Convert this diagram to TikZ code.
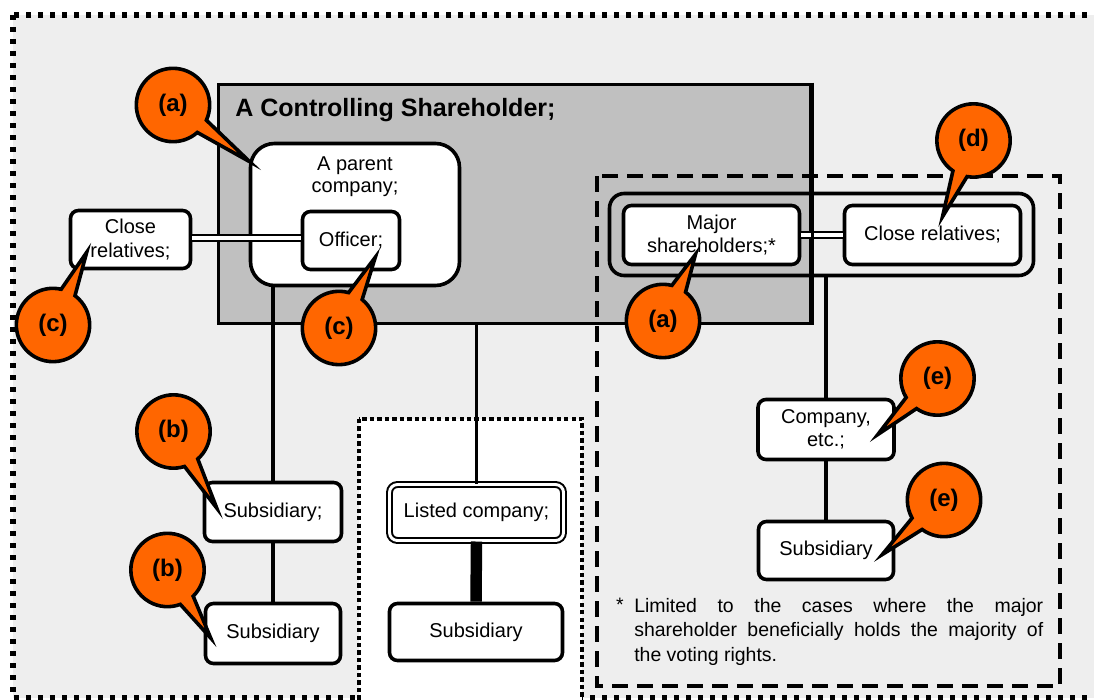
\documentclass[tikz,border=0pt]{standalone}
\usepackage{fontspec}
\setmainfont{Liberation Sans}
\usetikzlibrary{shapes.callouts,calc}
\definecolor{callorange}{HTML}{FF6600}
\definecolor{boxgray}{HTML}{C0C0C0}
\definecolor{bggray}{HTML}{EEEEEE}
\begin{document}
\begin{tikzpicture}[x=0.75pt,y=-0.75pt,
  box/.style={draw, line width=2.7pt, rounded corners=6pt, fill=white, align=center,
    font=\fontsize{15}{17.5}\selectfont, inner sep=0pt},
  link/.style={line width=2.6pt},
  dbl/.style={draw, double=white, line width=1.6pt, double distance=2.4pt},
  bubble/.style={ellipse callout, draw, line width=2.7pt, fill=callorange,
    minimum width=55pt, minimum height=55pt, inner sep=0pt, callout pointer arc=24,
    font=\fontsize{18}{20}\selectfont\bfseries},
  outerdot/.style={line width=4.4pt, dash pattern=on 4pt off 5pt},
  innerdot/.style={line width=3.6pt, dash pattern=on 3.2pt off 2.4pt},
  dashbox/.style={line width=2.8pt, dash pattern=on 12pt off 6.75pt},
  notetext/.style={font=\fontsize{14.6}{18.4}\selectfont, inner sep=0pt}
]
\useasboundingbox (0,0) rectangle (1094,699);
\clip (0,0) rectangle (1094,699);
\fill[white] (0,0) rectangle (1094,699);

% outer frame
\draw[outerdot, fill=bggray] (13,15) rectangle (1115,698);

% controlling shareholder box
\node[draw, line width=2.7pt, fill=boxgray, minimum width=444pt, minimum height=179.25pt, inner sep=0pt] (ctrl) at (514.5,204) {};
\node[anchor=west, font=\fontsize{18.8}{22}\selectfont\bfseries, inner sep=0pt] (title) at (235,110) {A Controlling Shareholder;};

% listed company dotted region
\draw[innerdot, fill=white] (359,419) rectangle (582,730);

% dashed region
\draw[dashbox] (597,176) rectangle (1060,686);

% left group
\node[box, rounded corners=18pt, minimum width=156.75pt, minimum height=106.5pt] (parent) at (355,214.5) {};
\node[align=center, font=\fontsize{15}{16.5}\selectfont, inner sep=0pt] (parentlbl) at (355,177) {A parent\\company;};
\node[box, minimum width=72.75pt, minimum height=43.5pt] (officer) at (351,240.5) {Officer;};
\node[box, minimum width=90pt, minimum height=43.5pt] (closeL) at (130.5,239.5) {Close\\relatives;};
\node[box, minimum width=102.75pt, minimum height=44.25pt] (sub1) at (273,512) {Subsidiary;};
\node[box, minimum width=101.25pt, minimum height=45pt] (sub2) at (273,633.5) {Subsidiary};

% center group
\node[box, double=white, line width=1.5pt, double distance=2.2pt, minimum width=130.5pt, minimum height=42pt] (listed) at (476.5,512.5) {Listed company;};
\node[box, minimum width=129.75pt, minimum height=42.75pt] (subC) at (476,632) {Subsidiary};

% right group
\node[draw, line width=2.7pt, rounded corners=11pt, minimum width=318pt, minimum height=61.5pt, inner sep=0pt] (encl) at (821.5,234.5) {};
\node[box, minimum width=132pt, minimum height=44.25pt] (major) at (711.5,235) {Major\\shareholders;*};
\node[box, minimum width=132pt, minimum height=44.25pt] (closeR) at (932.5,235) {Close relatives;};
\node[box, minimum width=102pt, minimum height=45pt] (company) at (826,429.5) {Company,\\etc.;};
\node[box, minimum width=101.25pt, minimum height=43.5pt] (subR) at (826,550.5) {Subsidiary};

% connectors
\draw[link] (sub1.north |- parent.south) -- (sub1.north);
\draw[link] (sub1.south) -- (sub2.north);
\draw[link] (listed.north |- ctrl.south) -- (listed.north);
\draw[line width=8.6pt] (listed.south) -- (subC.north);
\draw[link] (company.north |- encl.south) -- (company.north);
\draw[link] (company.south) -- (subR.north);
\draw[dbl] ($(closeL.east)+(0,-1.5)$) -- ($(closeL.east -| officer.west)+(0,-1.5)$);
\draw[dbl] (major.east) -- (closeR.west);
\draw[line width=2.7pt] (ctrl.north east) -- (ctrl.south east);

% note
\node[notetext, anchor=north west, align=left] (note) at (634,598)
  {\makebox[306.75pt][s]{Limited to the cases where the major}\\
   \makebox[306.75pt][s]{shareholder beneficially holds the majority of}\\
   the voting rights.};
\node[notetext, anchor=north] (star) at (620,598) {*};

% callouts
\node[bubble, callout absolute pointer={($(parent.north west)+(1,20)$)}] (ca1) at (173,105) {(a)};
\node[bubble, callout absolute pointer={($(closeL.south west)+(18,-18)$)}] (cc1) at (53,325) {(c)};
\node[bubble, callout absolute pointer={($(officer.south east)+(-26,-14)$)}] (cc2) at (339,328) {(c)};
\node[bubble, callout absolute pointer={($(major.south)+(-16,-12)$)}] (ca2) at (663,321) {(a)};
\node[bubble, callout absolute pointer={($(closeR.north)+(10,13)$)}] (cd) at (973.5,140.5) {(d)};
\node[bubble, callout absolute pointer={($(company.east)+(-18,5)$)}] (ce1) at (937.5,378.5) {(e)};
\node[bubble, callout absolute pointer={($(subR.east)+(-13,4)$)}] (ce2) at (944,500) {(e)};
\node[bubble, callout absolute pointer={($(sub1.west)+(14,-4)$)}] (cb1) at (173.5,431.5) {(b)};
\node[bubble, callout absolute pointer={($(sub2.west)+(7,4.5)$)}] (cb2) at (167.5,570) {(b)};
\end{tikzpicture}
\end{document}
